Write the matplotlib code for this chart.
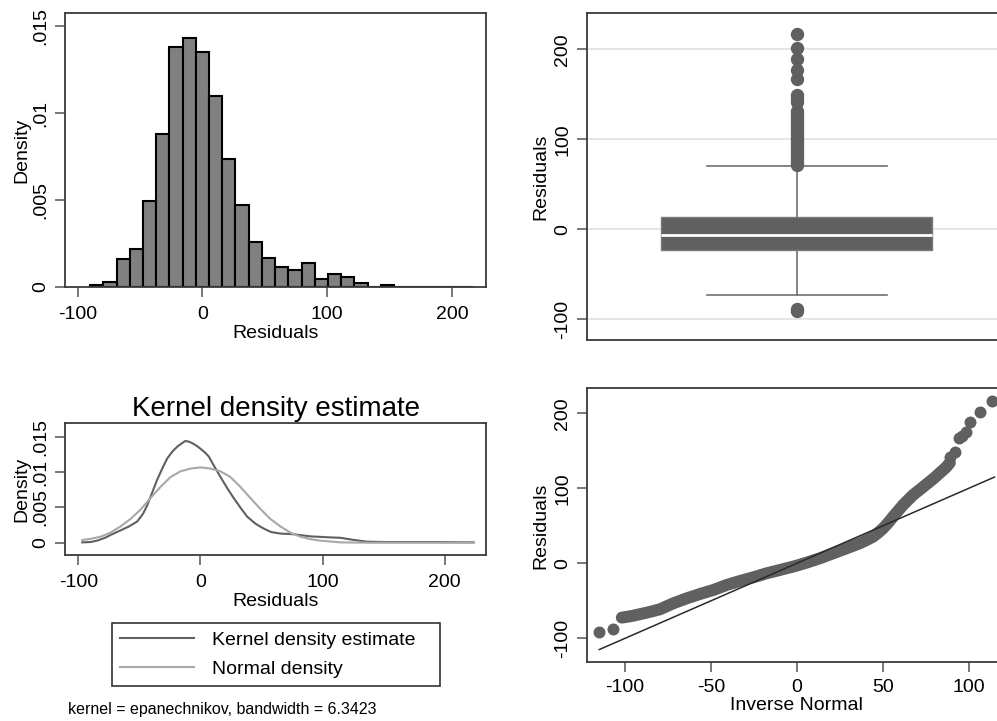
import numpy as np
import matplotlib
matplotlib.use("Agg")
import matplotlib.pyplot as plt
from matplotlib.lines import Line2D

plt.rcParams['font.family'] = ['Liberation Sans', 'DejaVu Sans']
plt.rcParams['axes.unicode_minus'] = False

# ---- histogram of residuals (29 bins from -90 to 217)
hist_edges = np.linspace(-90, 217, 30)
hist_density = [0.00013, 0.00027, 0.00159, 0.0022, 0.00496, 0.00882, 0.01379,
                0.01431, 0.01351, 0.01096, 0.00738, 0.00473, 0.00258, 0.00168,
                0.00117, 0.00096, 0.00136, 0.00046, 0.00077, 0.00057, 0.00025,
                0.0, 0.00014, 0.0, 0.00003, 0.00003, 0.00003, 0.00003, 0.00003]

# ---- box plot summary
box_q1 = -23
box_med = -6.3
box_q3 = 14
box_whislo = -73
box_whishi = 70.3
box_fliers = [217, 202, 189, 177, 166.5, 149, 145, 141.8, 132, 129, 126, 123,
              120, 117, 114, 111, 108, 105, 102, 99, 96, 93, 90, 87, 84, 81,
              78, 75, 72, -88, -91]

# ---- kernel density estimate vs normal density
kde_x = [-96.8, -90, -84.5, -78, -73.6, -66, -58.6, -51.8, -47, -43.6, -39.5,
         -35.5, -31, -27.3, -23, -19, -15, -12.3, -9.5, -6.8, -3, 0, 3.5, 6.8,
         11, 16.4, 22, 27.3, 33, 38.2, 45, 51.8, 58, 65.5, 76.4, 90, 106.4,
         114.5, 125.4, 136.4, 150, 163.6, 191, 223.6]
kde_y = [0.00005, 0.0001, 0.0003, 0.0007, 0.0011, 0.0017, 0.0023, 0.003, 0.0041,
         0.0053, 0.0071, 0.0089, 0.0106, 0.0119, 0.0129, 0.0136, 0.0141, 0.0144,
         0.0143, 0.0141, 0.0137, 0.0133, 0.0128, 0.0122, 0.0109, 0.0093, 0.0077,
         0.0063, 0.0049, 0.0037, 0.0027, 0.002, 0.0015, 0.0013, 0.0012, 0.0009,
         0.00075, 0.0007, 0.0004, 0.00015, 0.0001, 0.0001, 0.0001, 0.00005]
norm_x = [-96.8, -90, -81.8, -74, -65.5, -57, -49, -41, -32.7, -24.5, -16.4, -8,
          0, 8, 16.4, 24.5, 32.7, 41, 49, 57, 65.5, 74, 81.8, 90, 98, 114.5,
          140, 180, 223.6]
norm_y = [0.00038, 0.00055, 0.00085, 0.0014, 0.0023, 0.0034, 0.0047, 0.0063,
          0.0079, 0.0093, 0.0101, 0.0105, 0.01066, 0.0105, 0.0101, 0.0093,
          0.0079, 0.0063, 0.0048, 0.0034, 0.0023, 0.0014, 0.00085, 0.0005,
          0.0003, 0.00005, 0.0, 0.0, 0.0]

# ---- normal quantile plot
qq_band_x = [-101.9, -98.5, -95.2, -91.3, -87.4, -83.5, -79.7, -75.8, -71.9,
             -68, -64.1, -60.2, -56.4, -52.5, -48.6, -44.7, -40.9, -37, -33.1,
             -29.2, -25.4, -21.5, -17.6, -13.7, -9.9, -6, -2.1, 1.8, 5.6, 9.5,
             13.4, 17.2, 21.1, 25, 28.9, 32.7, 36.6, 40.5, 44.4, 47.3, 50.2,
             53.1, 56, 58.9, 61.8, 64.7, 67.6, 70, 72.5, 74.9, 77.3, 79.3,
             81.2, 83.1, 85.1, 87, 89]
qq_band_y = [-72.4, -71.2, -69.8, -67.8, -65.8, -63.6, -61.3, -57.3, -53.3,
             -50, -46.7, -43.8, -40.9, -38.2, -35.6, -32.2, -28.9, -26.2, -23.6,
             -21.1, -18.7, -16, -13.3, -11.1, -8.9, -6.6, -4.4, -1.8, 0.9, 3.8,
             6.7, 10, 13.3, 16.7, 20, 23.3, 26.7, 31, 35.6, 40.8, 46.7, 54,
             62.2, 70, 77.8, 84.5, 91.1, 95.5, 100, 104.5, 108.9, 112.6, 116.4,
             120.4, 124.4, 128.5, 134]
qq_tail_x = [-114.9, -106.8, 89, 91.9, 94.4, 96.2, 98.6, 101, 106.4, 113.8]
qq_tail_y = [-91.1, -88, 142, 148.8, 166.7, 170, 175.5, 188.8, 201.3, 216.8]

dark = '#606060'
spine_col = '#3a3a3a'


def style_axes(ax):
    for s in ax.spines.values():
        s.set_color(spine_col)
        s.set_linewidth(1.3)
    ax.tick_params(direction='out', length=7, width=1.1, color='#555555',
                   labelsize=14, pad=4)
    ax.tick_params(axis='y', labelrotation=90)
    for t in ax.get_yticklabels():
        t.set_va('center')


fig = plt.figure(figsize=(9.97, 7.21), dpi=100)

# histogram
ax1 = fig.add_axes([0.0652, 0.6019, 0.4223, 0.380])
ax1.bar(hist_edges[:-1], hist_density, width=np.diff(hist_edges), align='edge',
        color='#808080', edgecolor='black', linewidth=1.5)
ax1.set_xlim(-110.2, 227.3)
ax1.set_ylim(0, 0.01575)
ax1.set_xticks([-100, 0, 100, 200])
ax1.set_yticks([0, 0.005, 0.01, 0.015], ['0', '.005', '.01', '.015'])
style_axes(ax1)
ax1.tick_params(axis='x', pad=7)
ax1.set_xlabel('Residuals', fontsize=14, labelpad=1)
ax1.set_ylabel('Density', fontsize=14, labelpad=2)

# box plot
ax2 = fig.add_axes([0.5885, 0.5284, 0.4216, 0.4531])
for g in [-100, 0, 100, 200]:
    ax2.axhline(g, color='#e4e4e4', lw=1.3, zorder=0)
stats = [dict(med=box_med, q1=box_q1, q3=box_q3, whislo=box_whislo,
              whishi=box_whishi, fliers=box_fliers)]
ax2.bxp(stats, positions=[0], widths=0.645, capwidths=0.43, patch_artist=True,
        boxprops=dict(facecolor=dark, edgecolor='#7a7a7a', linewidth=1),
        medianprops=dict(color='white', linewidth=2),
        whiskerprops=dict(color='#707070', linewidth=1.2),
        capprops=dict(color='#707070', linewidth=1.2),
        flierprops=dict(marker='o', markersize=8.6, markerfacecolor=dark,
                        markeredgecolor=dark))
ax2.set_xlim(-0.5, 0.5)
ax2.set_ylim(-123, 240)
ax2.set_xticks([])
ax2.set_yticks([-100, 0, 100, 200])
style_axes(ax2)
ax2.set_ylabel('Residuals', fontsize=14, labelpad=4)

# kernel density
ax3 = fig.add_axes([0.0652, 0.2302, 0.4223, 0.1827])
ax3.plot(kde_x, kde_y, color=dark, lw=1.5)
ax3.plot(norm_x, norm_y, color='#a8a8a8', lw=1.5)
ax3.set_xlim(-110.9, 233.8)
ax3.set_ylim(-0.00174, 0.0169)
ax3.set_xticks([-100, 0, 100, 200])
ax3.set_yticks([0, 0.005, 0.01, 0.015], ['0', '.005', '.01', '.015'])
style_axes(ax3)
ax3.tick_params(axis='x', pad=7)
ax3.set_xlabel('Residuals', fontsize=14, labelpad=1)
ax3.set_ylabel('Density', fontsize=14, labelpad=2)
ax3.set_title('Kernel density estimate', fontsize=20, pad=5)

handles = [Line2D([], [], color=dark, lw=1.5),
           Line2D([], [], color='#a8a8a8', lw=1.5)]
leg = fig.legend(handles, ['Kernel density estimate', 'Normal density'],
                 loc='upper left', bbox_to_anchor=(0.112, 0.0416, 0.329, 0.0944),
                 mode='expand', fontsize=14, frameon=True, fancybox=False,
                 edgecolor='black', handlelength=3.8, handletextpad=0.9,
                 labelspacing=0.55, borderpad=0.45, borderaxespad=0)
leg.get_frame().set_linewidth(1.2)
fig.text(0.0685, 0.0153, 'kernel = epanechnikov, bandwidth = 6.3423',
         fontsize=11.5, va='center')

# normal quantile plot
ax4 = fig.add_axes([0.5885, 0.0814, 0.4216, 0.380])
ax4.plot(qq_band_x, qq_band_y, color=dark, lw=8.6, solid_capstyle='round',
         solid_joinstyle='round')
ax4.scatter(qq_tail_x, qq_tail_y, s=74, color=dark, linewidths=0)
ax4.plot([-115, 115], [-115, 115], color='#2a2a2a', lw=1.1)
ax4.set_xlim(-122.3, 122.3)
ax4.set_ylim(-132, 233.3)
ax4.set_xticks([-100, -50, 0, 50, 100])
ax4.set_yticks([-100, 0, 100, 200])
style_axes(ax4)
ax4.tick_params(axis='x', pad=5)
ax4.set_xlabel('Inverse Normal', fontsize=14, labelpad=1)
ax4.set_ylabel('Residuals', fontsize=14, labelpad=4)

fig.savefig('out.png', dpi=100)
